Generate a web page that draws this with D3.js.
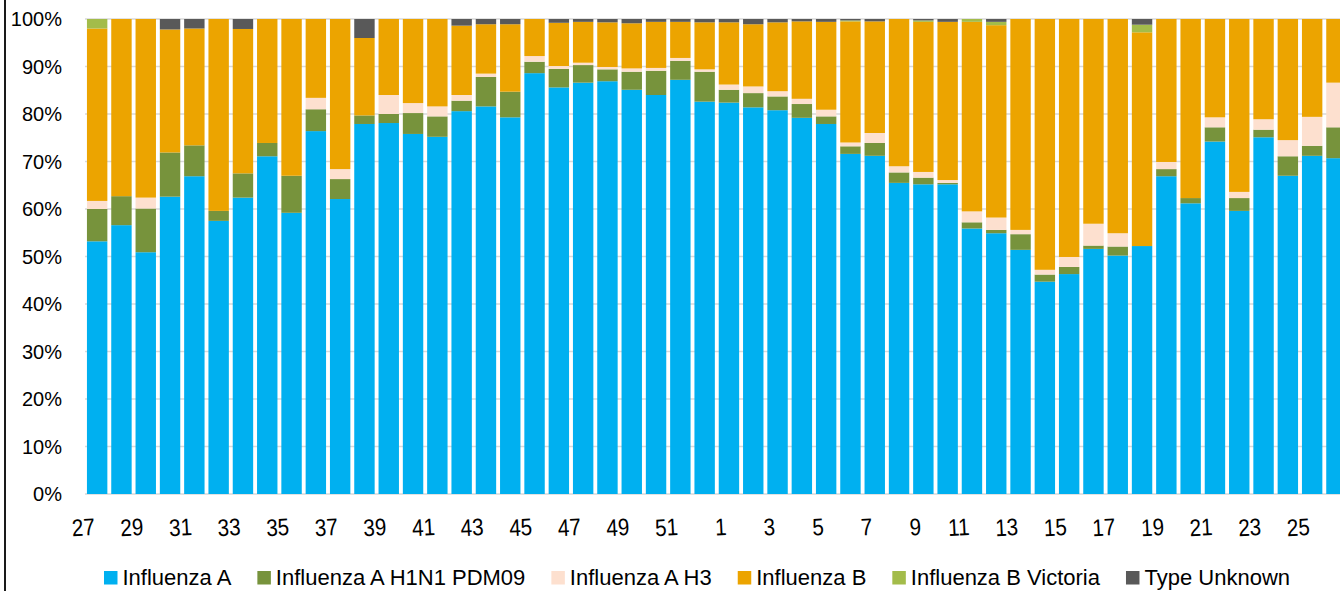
<!DOCTYPE html>
<html>
<head>
<meta charset="utf-8">
<script src="https://cdn.jsdelivr.net/npm/d3@7"></script>
<style>
  body { margin: 0; background: #fff; }
  svg { display: block; font-family: "Liberation Sans", Arial, sans-serif; }
</style>
</head>
<body>
<div id="chart"></div>
<script>
// week numbers (season runs week 27 to week 26)
const weeks = [27,28,29,30,31,32,33,34,35,36,37,38,39,40,41,42,43,44,45,46,47,48,49,50,51,52,
  1,2,3,4,5,6,7,8,9,10,11,12,13,14,15,16,17,18,19,20,21,22,23,24,25,26];

// share of positive samples (%) per week
const fluA = [53.2,56.6,50.9,62.6,66.9,57.5,62.4,71.1,59.2,76.4,62.1,77.9,78.1,75.8,75.2,80.6,81.6,79.3,88.6,85.6,86.6,86.9,85.1,84.0,87.2,82.6,
  82.4,81.4,80.8,79.2,77.9,71.6,71.2,65.5,65.2,65.2,55.9,54.9,51.4,44.7,46.3,51.6,50.2,52.2,66.9,61.2,74.2,59.6,75.1,67.0,71.2,70.7];
const fluH1N1 = [6.8,6.1,9.2,9.3,6.5,2.1,5.1,2.8,7.8,4.6,4.2,1.8,1.9,4.4,4.3,2.2,6.2,5.4,2.4,3.9,3.7,2.5,3.8,5.1,4.0,6.3,
  2.7,3.0,2.9,2.9,1.6,1.6,2.7,2.2,1.4,0.3,1.3,0.7,3.3,1.5,1.5,0.7,1.9,0,1.5,1.1,3.0,2.7,1.6,4.1,2.1,6.5];
const fluH3 = [1.7,0,2.3,0,0,0,0,0,0,2.4,2.1,0,4.0,2.1,2.1,1.2,0.7,0,1.2,0.6,0.5,0.5,0.7,0.6,0.6,0.5,
  1.1,1.4,1.1,1.1,1.4,0.8,2.1,1.3,1.2,0.6,2.3,2.6,0.9,1.0,2.1,4.6,2.8,0,1.5,0,2.1,1.3,2.2,3.4,6.1,9.4];
const fluB = [36.3,37.3,37.6,25.9,24.6,40.4,30.4,26.1,33.0,16.6,31.6,16.3,16.0,17.7,18.4,14.6,10.4,14.2,7.8,9.1,8.6,9.4,9.5,9.7,7.6,9.9,
  13.1,13.1,14.5,16.3,18.5,25.5,23.5,31.0,31.6,33.3,39.9,40.5,44.4,52.8,50.1,43.1,45.1,45.0,30.1,37.7,20.7,36.4,21.1,25.5,20.6,13.4];
const fluBVic = [2.0,0,0,0,0,0,0,0,0,0,0,0,0,0,0,0,0,0,0,0,0,0,0,0,0,0,
  0,0,0,0,0,0.2,0,0,0.3,0,0.6,0.7,0,0,0,0,0,1.6,0,0,0,0,0,0,0,0];
const typeUnknown = [0,0,0,2.2,2.0,0,2.1,0,0,0,0,4.0,0,0,0,1.4,1.1,1.1,0,0.8,0.6,0.7,0.9,0.6,0.6,0.7,
  0.7,1.1,0.7,0.5,0.6,0.3,0.5,0,0.3,0.6,0,0.6,0,0,0,0,0,1.2,0,0,0,0,0,0,0,0];

const seriesNames = ["Influenza A", "Influenza A H1N1 PDM09", "Influenza A H3", "Influenza B", "Influenza B Victoria", "Type Unknown"];
const seriesColors = ["#00b0f0", "#77933c", "#fde0cf", "#eca400", "#a3bc4a", "#595959"];
const yTicks = [0, 0.1, 0.2, 0.3, 0.4, 0.5, 0.6, 0.7, 0.8, 0.9, 1];

const width = 1340, height = 591;
const margin = { top: 19, bottom: 97, left: 85 };

const table = weeks.map((w, i) => {
  const row = { week: w, key: i };
  [fluA, fluH1N1, fluH3, fluB, fluBVic, typeUnknown].forEach((arr, j) => row[seriesNames[j]] = arr[i]);
  return row;
});

const stacked = d3.stack()
  .keys(seriesNames)
  .offset(d3.stackOffsetExpand)(table);

const x = d3.scaleBand()
  .domain(table.map(d => d.key))
  .range([margin.left, margin.left + 52 * 24.3])
  .paddingInner(0.16)
  .paddingOuter(0.08);

const y = d3.scaleLinear()
  .domain([0, 1])
  .range([height - margin.bottom, margin.top]);

const color = d3.scaleOrdinal().domain(seriesNames).range(seriesColors);

const svg = d3.select("#chart")
  .append("svg")
  .attr("width", width)
  .attr("height", height);

// left frame edge
svg.append("line")
  .attr("x1", 5).attr("x2", 5)
  .attr("y1", 0).attr("y2", height)
  .attr("stroke", "#1a1a1a")
  .attr("stroke-width", 2);

// gridlines
svg.append("g")
  .selectAll("line")
  .data(yTicks)
  .join("line")
  .attr("x1", margin.left)
  .attr("x2", width)
  .attr("y1", d => y(d))
  .attr("y2", d => y(d))
  .attr("stroke", "#d9d9d9")
  .attr("stroke-width", 1.5);

// y labels
svg.append("g")
  .selectAll("text")
  .data(yTicks)
  .join("text")
  .attr("x", 62)
  .attr("y", d => y(d))
  .attr("dy", "0.35em")
  .attr("text-anchor", "end")
  .attr("font-size", "20px")
  .attr("fill", "#000")
  .text(d3.format(".0%"));

// bars
svg.append("g")
  .selectAll("g")
  .data(stacked)
  .join("g")
  .attr("fill", d => color(d.key))
  .selectAll("rect")
  .data(d => d)
  .join("rect")
  .attr("x", d => x(d.data.key))
  .attr("width", x.bandwidth())
  .attr("y", d => y(d[1]))
  .attr("height", d => Math.max(0, y(d[0]) - y(d[1])));

// x labels, every second week, slightly tilted
svg.append("g")
  .selectAll("text")
  .data(table.filter((d, i) => i % 2 === 0))
  .join("text")
  .attr("transform", d => `translate(${x(d.key) + x.bandwidth() / 2 - 2},535) rotate(-3) scale(0.86,1)`)
  .attr("text-anchor", "end")
  .attr("font-size", "24px")
  .attr("fill", "#000")
  .text(d => d.week);

// legend
const legend = svg.append("g").attr("font-size", "22px");
let lx = 0;
seriesNames.forEach(name => {
  const g = legend.append("g");
  g.append("rect")
    .attr("y", 571)
    .attr("width", 13.5)
    .attr("height", 13.5)
    .attr("fill", color(name));
  const t = g.append("text")
    .attr("x", 18.5)
    .attr("y", 584.5)
    .attr("fill", "#000")
    .text(name);
  const w = 18.5 + t.node().getComputedTextLength();
  g.attr("transform", `translate(${lx},0)`);
  lx += w + 26;
});
const legendWidth = lx - 26;
legend.attr("transform", `translate(${697 - legendWidth / 2},0)`);
</script>
</body>
</html>
